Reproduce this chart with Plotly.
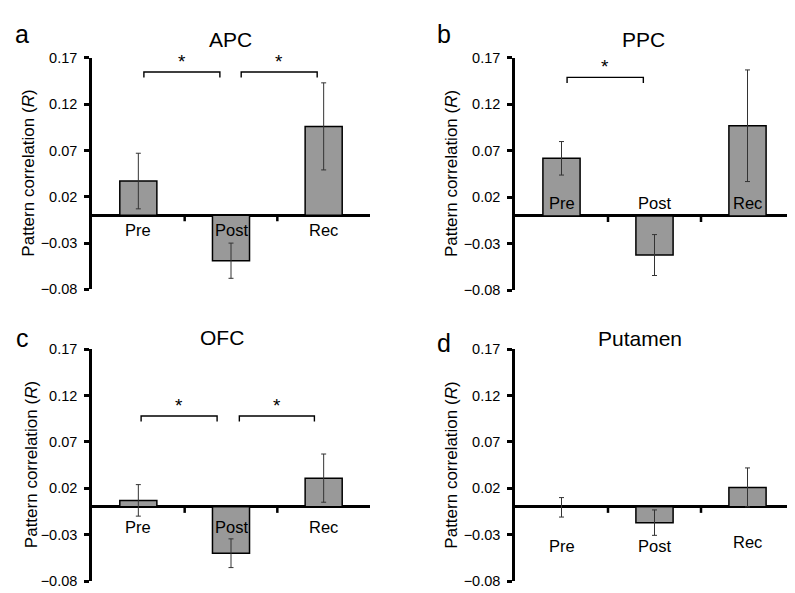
import plotly.graph_objects as go

# ---------------- data ----------------
categories = ["Pre", "Post", "Rec"]

apc_mean = [0.037, -0.049, 0.096]
apc_sem = [0.030, 0.019, 0.047]

ppc_mean = [0.062, -0.042, 0.097]
ppc_sem = [0.018, 0.022, 0.060]

ofc_mean = [0.007, -0.050, 0.031]
ofc_sem = [0.017, 0.0155, 0.026]

put_mean = [-0.0005, -0.017, 0.021]
put_sem = [0.0105, 0.0137, 0.021]

panel_titles = ["APC", "PPC", "OFC", "Putamen"]
panel_letters = ["a", "b", "c", "d"]

y_tick_vals = [-0.08, -0.03, 0.02, 0.07, 0.12, 0.17]
y_tick_text = ["\u22120.08", "\u22120.03", "0.02", "0.07", "0.12", "0.17"]
y_range = [-0.08, 0.17]

# significance brackets: (panel index, x start, x end, bracket height)
sig_brackets = [
    (0, 0.06, 0.88, 0.1547),
    (0, 1.11, 1.93, 0.1547),
    (1, 0.06, 0.88, 0.149),
    (2, 0.03, 0.85, 0.098),
    (2, 1.09, 1.90, 0.098),
]

means = [apc_mean, ppc_mean, ofc_mean, put_mean]
sems = [apc_sem, ppc_sem, ofc_sem, put_sem]

# ---------------- layout/style ----------------
W, H = 795, 593
FONT = "Arial, 'Liberation Sans', Helvetica, sans-serif"

# pixel boxes of the four plot areas: (left, right, top, bottom)
boxes = [
    (84, 362, 43, 281),
    (507, 786, 43, 282),
    (84, 362, 342.5, 580.7),
    (507, 786, 342.5, 580.7),
]
title_pos = [(222, 24.5), (635, 24), (214, 330), (632, 331)]
letter_pos = [(14, 19), (436, 18), (14, 331), (436, 336)]
ytitle_x = [21, 443, 23, 443.5]
# category label offsets from zero line in px (positive = below)
label_offsets = [[15, 15, 15], [-12.5, -12.5, -12.5], [20.5, 20.5, 20.5], [39, 39, 35]]

fig = go.Figure()
layout = dict(
    width=W, height=H,
    margin=dict(l=0, r=0, t=0, b=0),
    paper_bgcolor="white", plot_bgcolor="white",
    showlegend=False,
    font=dict(family=FONT, color="black"),
    bargap=0.6,
)
annotations = []
shapes = []

for p in range(4):
    l, r, t, b = boxes[p]
    sfx = "" if p == 0 else str(p + 1)
    xa, ya = "x" + sfx, "y" + sfx
    layout["xaxis" + sfx] = dict(
        domain=[l / W, r / W], range=[-0.5, 2.5], anchor=ya,
        showline=False, showgrid=False, zeroline=False,
        showticklabels=False, ticks="", fixedrange=True,
    )
    layout["yaxis" + sfx] = dict(
        domain=[1 - b / H, 1 - t / H], range=y_range, anchor=xa,
        showline=True, linewidth=2.5, linecolor="black",
        ticks="outside", ticklen=5, tickwidth=2.5, tickcolor="black",
        tickvals=y_tick_vals, ticktext=y_tick_text,
        tickfont=dict(size=14.5, color="black"), ticklabelstandoff=4,
        showgrid=False, zeroline=True, zerolinewidth=2.5, zerolinecolor="black",
        fixedrange=True,
    )
    fig.add_trace(go.Bar(
        x=list(range(len(categories))), y=means[p],
        xaxis=xa, yaxis=ya,
        width=0.4,
        marker=dict(color="#999999", line=dict(color="black", width=1.5)),
        error_y=dict(type="data", array=sems[p], visible=True,
                     color="#333333", thickness=1, width=2.5),
        hoverinfo="skip",
    ))
    # category labels
    for i, c in enumerate(categories):
        annotations.append(dict(
            x=i, y=0, xref=xa, yref=ya, text=c, showarrow=False,
            yshift=-label_offsets[p][i], font=dict(size=16.5, color="black"),
            xanchor="center", yanchor="middle",
        ))
    # small x tick marks at category boundaries
    for xb in (0.5, 1.5):
        shapes.append(dict(
            type="line", xref=xa, yref=ya, x0=xb, x1=xb,
            ysizemode="pixel", yanchor=0, y0=0, y1=-6,
            line=dict(color="black", width=2.5),
        ))
    # titles
    tx, ty = title_pos[p]
    annotations.append(dict(
        x=tx / W, y=1 - ty / H, xref="paper", yref="paper", text=panel_titles[p],
        showarrow=False, font=dict(size=21, color="black"),
        xanchor="center", yanchor="middle",
    ))
    lx, ly = letter_pos[p]
    annotations.append(dict(
        x=lx / W, y=1 - ly / H, xref="paper", yref="paper", text=panel_letters[p],
        showarrow=False, font=dict(size=25, color="black"),
        xanchor="center", yanchor="middle",
    ))
    annotations.append(dict(
        x=ytitle_x[p] / W, y=1 - ((t + b) / 2) / H, xref="paper", yref="paper",
        text="Pattern correlation (<i>R</i>)", textangle=-90,
        showarrow=False, font=dict(size=17, color="black"),
        xanchor="center", yanchor="middle",
    ))

# significance brackets
for (p, x0, x1, yh) in sig_brackets:
    sfx = "" if p == 0 else str(p + 1)
    xa, ya = "x" + sfx, "y" + sfx
    drop = 0.006
    fig.add_trace(go.Scatter(
        x=[x0, x0, x1, x1], y=[yh - drop, yh, yh, yh - drop],
        xaxis=xa, yaxis=ya, mode="lines",
        line=dict(color="black", width=1.4), hoverinfo="skip",
    ))
    annotations.append(dict(
        x=(x0 + x1) / 2, y=yh, xref=xa, yref=ya, text="*", showarrow=False,
        yshift=11, font=dict(size=19, color="black"),
        xanchor="center", yanchor="middle",
    ))

layout["annotations"] = annotations
layout["shapes"] = shapes
fig.update_layout(**layout)

fig.write_html("out.html")
